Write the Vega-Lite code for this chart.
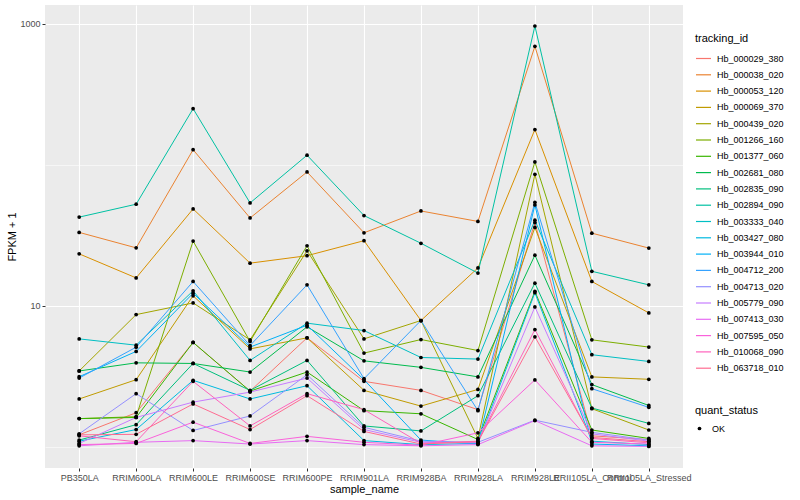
{
  "$schema": "https://vega.github.io/schema/vega-lite/v6.json",
  "width": 638,
  "height": 463,
  "autosize": {"type": "none"},
  "padding": {"left": 45, "top": 5, "right": 117, "bottom": 32},
  "background": "white",
  "config": {"view": {"fill": "#EBEBEB", "stroke": null}, "font": "Liberation Sans"},
  "datasets": {
    "d": [
      {"id":"Hb_000029_380","s":"PB350LA","v":1.22,"q":"OK"},{"id":"Hb_000029_380","s":"RRIM600LA","v":1.75,"q":"OK"},{"id":"Hb_000029_380","s":"RRIM600LE","v":5.51,"q":"OK"},{"id":"Hb_000029_380","s":"RRIM600SE","v":2.49,"q":"OK"},{"id":"Hb_000029_380","s":"RRIM600PE","v":5.94,"q":"OK"},{"id":"Hb_000029_380","s":"RRIM901LA","v":2.92,"q":"OK"},{"id":"Hb_000029_380","s":"RRIM928BA","v":2.52,"q":"OK"},{"id":"Hb_000029_380","s":"RRIM928LA","v":1.84,"q":"OK"},{"id":"Hb_000029_380","s":"RRIM928LE","v":39,"q":"OK"},{"id":"Hb_000029_380","s":"RRII105LA_Control","v":1.2,"q":"OK"},{"id":"Hb_000029_380","s":"RRII105LA_Stressed","v":1.13,"q":"OK"},
      {"id":"Hb_000038_020","s":"PB350LA","v":33.2,"q":"OK"},{"id":"Hb_000038_020","s":"RRIM600LA","v":25.8,"q":"OK"},{"id":"Hb_000038_020","s":"RRIM600LE","v":128,"q":"OK"},{"id":"Hb_000038_020","s":"RRIM600SE","v":42,"q":"OK"},{"id":"Hb_000038_020","s":"RRIM600PE","v":89,"q":"OK"},{"id":"Hb_000038_020","s":"RRIM901LA","v":33,"q":"OK"},{"id":"Hb_000038_020","s":"RRIM928BA","v":47.1,"q":"OK"},{"id":"Hb_000038_020","s":"RRIM928LA","v":39.7,"q":"OK"},{"id":"Hb_000038_020","s":"RRIM928LE","v":692,"q":"OK"},{"id":"Hb_000038_020","s":"RRII105LA_Control","v":32.8,"q":"OK"},{"id":"Hb_000038_020","s":"RRII105LA_Stressed","v":25.7,"q":"OK"},
      {"id":"Hb_000053_120","s":"PB350LA","v":23.4,"q":"OK"},{"id":"Hb_000053_120","s":"RRIM600LA","v":15.8,"q":"OK"},{"id":"Hb_000053_120","s":"RRIM600LE","v":48.7,"q":"OK"},{"id":"Hb_000053_120","s":"RRIM600SE","v":20.1,"q":"OK"},{"id":"Hb_000053_120","s":"RRIM600PE","v":22.7,"q":"OK"},{"id":"Hb_000053_120","s":"RRIM901LA","v":29,"q":"OK"},{"id":"Hb_000053_120","s":"RRIM928BA","v":7.88,"q":"OK"},{"id":"Hb_000053_120","s":"RRIM928LA","v":18.6,"q":"OK"},{"id":"Hb_000053_120","s":"RRIM928LE","v":178,"q":"OK"},{"id":"Hb_000053_120","s":"RRII105LA_Control","v":14.9,"q":"OK"},{"id":"Hb_000053_120","s":"RRII105LA_Stressed","v":8.92,"q":"OK"},
      {"id":"Hb_000069_370","s":"PB350LA","v":2.19,"q":"OK"},{"id":"Hb_000069_370","s":"RRIM600LA","v":3.0,"q":"OK"},{"id":"Hb_000069_370","s":"RRIM600LE","v":11.8,"q":"OK"},{"id":"Hb_000069_370","s":"RRIM600SE","v":4.96,"q":"OK"},{"id":"Hb_000069_370","s":"RRIM600PE","v":5.94,"q":"OK"},{"id":"Hb_000069_370","s":"RRIM901LA","v":2.52,"q":"OK"},{"id":"Hb_000069_370","s":"RRIM928BA","v":1.95,"q":"OK"},{"id":"Hb_000069_370","s":"RRIM928LA","v":2.56,"q":"OK"},{"id":"Hb_000069_370","s":"RRIM928LE","v":36,"q":"OK"},{"id":"Hb_000069_370","s":"RRII105LA_Control","v":3.14,"q":"OK"},{"id":"Hb_000069_370","s":"RRII105LA_Stressed","v":3.02,"q":"OK"},
      {"id":"Hb_000439_020","s":"PB350LA","v":3.46,"q":"OK"},{"id":"Hb_000439_020","s":"RRIM600LA","v":8.68,"q":"OK"},{"id":"Hb_000439_020","s":"RRIM600LE","v":10.5,"q":"OK"},{"id":"Hb_000439_020","s":"RRIM600SE","v":5.75,"q":"OK"},{"id":"Hb_000439_020","s":"RRIM600PE","v":24.6,"q":"OK"},{"id":"Hb_000439_020","s":"RRIM901LA","v":5.84,"q":"OK"},{"id":"Hb_000439_020","s":"RRIM928BA","v":7.88,"q":"OK"},{"id":"Hb_000439_020","s":"RRIM928LA","v":1.15,"q":"OK"},{"id":"Hb_000439_020","s":"RRIM928LE","v":85.7,"q":"OK"},{"id":"Hb_000439_020","s":"RRII105LA_Control","v":1.87,"q":"OK"},{"id":"Hb_000439_020","s":"RRII105LA_Stressed","v":1.32,"q":"OK"},
      {"id":"Hb_001266_160","s":"PB350LA","v":1.59,"q":"OK"},{"id":"Hb_001266_160","s":"RRIM600LA","v":1.64,"q":"OK"},{"id":"Hb_001266_160","s":"RRIM600LE","v":28.8,"q":"OK"},{"id":"Hb_001266_160","s":"RRIM600SE","v":5.6,"q":"OK"},{"id":"Hb_001266_160","s":"RRIM600PE","v":26.7,"q":"OK"},{"id":"Hb_001266_160","s":"RRIM901LA","v":4.63,"q":"OK"},{"id":"Hb_001266_160","s":"RRIM928BA","v":5.78,"q":"OK"},{"id":"Hb_001266_160","s":"RRIM928LA","v":4.83,"q":"OK"},{"id":"Hb_001266_160","s":"RRIM928LE","v":104.8,"q":"OK"},{"id":"Hb_001266_160","s":"RRII105LA_Control","v":5.75,"q":"OK"},{"id":"Hb_001266_160","s":"RRII105LA_Stressed","v":5.11,"q":"OK"},
      {"id":"Hb_001377_060","s":"PB350LA","v":1.59,"q":"OK"},{"id":"Hb_001377_060","s":"RRIM600LA","v":1.62,"q":"OK"},{"id":"Hb_001377_060","s":"RRIM600LE","v":5.51,"q":"OK"},{"id":"Hb_001377_060","s":"RRIM600SE","v":2.49,"q":"OK"},{"id":"Hb_001377_060","s":"RRIM600PE","v":3.4,"q":"OK"},{"id":"Hb_001377_060","s":"RRIM901LA","v":1.81,"q":"OK"},{"id":"Hb_001377_060","s":"RRIM928BA","v":1.72,"q":"OK"},{"id":"Hb_001377_060","s":"RRIM928LA","v":1.13,"q":"OK"},{"id":"Hb_001377_060","s":"RRIM928LE","v":12.7,"q":"OK"},{"id":"Hb_001377_060","s":"RRII105LA_Control","v":1.32,"q":"OK"},{"id":"Hb_001377_060","s":"RRII105LA_Stressed","v":1.15,"q":"OK"},
      {"id":"Hb_002681_080","s":"PB350LA","v":3.46,"q":"OK"},{"id":"Hb_002681_080","s":"RRIM600LA","v":3.95,"q":"OK"},{"id":"Hb_002681_080","s":"RRIM600LE","v":3.91,"q":"OK"},{"id":"Hb_002681_080","s":"RRIM600SE","v":3.4,"q":"OK"},{"id":"Hb_002681_080","s":"RRIM600PE","v":7.11,"q":"OK"},{"id":"Hb_002681_080","s":"RRIM901LA","v":4.08,"q":"OK"},{"id":"Hb_002681_080","s":"RRIM928BA","v":3.67,"q":"OK"},{"id":"Hb_002681_080","s":"RRIM928LA","v":3.14,"q":"OK"},{"id":"Hb_002681_080","s":"RRIM928LE","v":22.9,"q":"OK"},{"id":"Hb_002681_080","s":"RRII105LA_Control","v":2.77,"q":"OK"},{"id":"Hb_002681_080","s":"RRII105LA_Stressed","v":1.97,"q":"OK"},
      {"id":"Hb_002835_090","s":"PB350LA","v":1.12,"q":"OK"},{"id":"Hb_002835_090","s":"RRIM600LA","v":1.44,"q":"OK"},{"id":"Hb_002835_090","s":"RRIM600LE","v":3.91,"q":"OK"},{"id":"Hb_002835_090","s":"RRIM600SE","v":2.52,"q":"OK"},{"id":"Hb_002835_090","s":"RRIM600PE","v":4.11,"q":"OK"},{"id":"Hb_002835_090","s":"RRIM901LA","v":1.41,"q":"OK"},{"id":"Hb_002835_090","s":"RRIM928BA","v":1.3,"q":"OK"},{"id":"Hb_002835_090","s":"RRIM928LA","v":2.31,"q":"OK"},{"id":"Hb_002835_090","s":"RRIM928LE","v":14.5,"q":"OK"},{"id":"Hb_002835_090","s":"RRII105LA_Control","v":1.89,"q":"OK"},{"id":"Hb_002835_090","s":"RRII105LA_Stressed","v":1.47,"q":"OK"},
      {"id":"Hb_002894_090","s":"PB350LA","v":42.6,"q":"OK"},{"id":"Hb_002894_090","s":"RRIM600LA","v":52.6,"q":"OK"},{"id":"Hb_002894_090","s":"RRIM600LE","v":250,"q":"OK"},{"id":"Hb_002894_090","s":"RRIM600SE","v":53.7,"q":"OK"},{"id":"Hb_002894_090","s":"RRIM600PE","v":117,"q":"OK"},{"id":"Hb_002894_090","s":"RRIM901LA","v":43.7,"q":"OK"},{"id":"Hb_002894_090","s":"RRIM928BA","v":27.8,"q":"OK"},{"id":"Hb_002894_090","s":"RRIM928LA","v":17.1,"q":"OK"},{"id":"Hb_002894_090","s":"RRIM928LE","v":964,"q":"OK"},{"id":"Hb_002894_090","s":"RRII105LA_Control","v":17.6,"q":"OK"},{"id":"Hb_002894_090","s":"RRII105LA_Stressed","v":14.1,"q":"OK"},
      {"id":"Hb_003333_040","s":"PB350LA","v":5.84,"q":"OK"},{"id":"Hb_003333_040","s":"RRIM600LA","v":5.27,"q":"OK"},{"id":"Hb_003333_040","s":"RRIM600LE","v":12.8,"q":"OK"},{"id":"Hb_003333_040","s":"RRIM600SE","v":4.11,"q":"OK"},{"id":"Hb_003333_040","s":"RRIM600PE","v":7.55,"q":"OK"},{"id":"Hb_003333_040","s":"RRIM901LA","v":6.69,"q":"OK"},{"id":"Hb_003333_040","s":"RRIM928BA","v":4.31,"q":"OK"},{"id":"Hb_003333_040","s":"RRIM928LA","v":4.2,"q":"OK"},{"id":"Hb_003333_040","s":"RRIM928LE","v":40.5,"q":"OK"},{"id":"Hb_003333_040","s":"RRII105LA_Control","v":4.51,"q":"OK"},{"id":"Hb_003333_040","s":"RRII105LA_Stressed","v":4.04,"q":"OK"},
      {"id":"Hb_003427_080","s":"PB350LA","v":1.1,"q":"OK"},{"id":"Hb_003427_080","s":"RRIM600LA","v":1.33,"q":"OK"},{"id":"Hb_003427_080","s":"RRIM600LE","v":2.97,"q":"OK"},{"id":"Hb_003427_080","s":"RRIM600SE","v":2.19,"q":"OK"},{"id":"Hb_003427_080","s":"RRIM600PE","v":2.72,"q":"OK"},{"id":"Hb_003427_080","s":"RRIM901LA","v":1.11,"q":"OK"},{"id":"Hb_003427_080","s":"RRIM928BA","v":1.04,"q":"OK"},{"id":"Hb_003427_080","s":"RRIM928LA","v":1.06,"q":"OK"},{"id":"Hb_003427_080","s":"RRIM928LE","v":12.4,"q":"OK"},{"id":"Hb_003427_080","s":"RRII105LA_Control","v":1.1,"q":"OK"},{"id":"Hb_003427_080","s":"RRII105LA_Stressed","v":1.04,"q":"OK"},
      {"id":"Hb_003944_010","s":"PB350LA","v":3.15,"q":"OK"},{"id":"Hb_003944_010","s":"RRIM600LA","v":4.76,"q":"OK"},{"id":"Hb_003944_010","s":"RRIM600LE","v":12.3,"q":"OK"},{"id":"Hb_003944_010","s":"RRIM600SE","v":5.11,"q":"OK"},{"id":"Hb_003944_010","s":"RRIM600PE","v":7.3,"q":"OK"},{"id":"Hb_003944_010","s":"RRIM901LA","v":3.0,"q":"OK"},{"id":"Hb_003944_010","s":"RRIM928BA","v":1.12,"q":"OK"},{"id":"Hb_003944_010","s":"RRIM928LA","v":1.05,"q":"OK"},{"id":"Hb_003944_010","s":"RRIM928LE","v":52,"q":"OK"},{"id":"Hb_003944_010","s":"RRII105LA_Control","v":1.05,"q":"OK"},{"id":"Hb_003944_010","s":"RRII105LA_Stressed","v":1.02,"q":"OK"},
      {"id":"Hb_004712_200","s":"PB350LA","v":3.08,"q":"OK"},{"id":"Hb_004712_200","s":"RRIM600LA","v":5.1,"q":"OK"},{"id":"Hb_004712_200","s":"RRIM600LE","v":14.9,"q":"OK"},{"id":"Hb_004712_200","s":"RRIM600SE","v":5.24,"q":"OK"},{"id":"Hb_004712_200","s":"RRIM600PE","v":14.1,"q":"OK"},{"id":"Hb_004712_200","s":"RRIM901LA","v":3.05,"q":"OK"},{"id":"Hb_004712_200","s":"RRIM928BA","v":7.88,"q":"OK"},{"id":"Hb_004712_200","s":"RRIM928LA","v":1.81,"q":"OK"},{"id":"Hb_004712_200","s":"RRIM928LE","v":54.3,"q":"OK"},{"id":"Hb_004712_200","s":"RRII105LA_Control","v":2.59,"q":"OK"},{"id":"Hb_004712_200","s":"RRII105LA_Stressed","v":1.91,"q":"OK"},
      {"id":"Hb_004713_020","s":"PB350LA","v":1.24,"q":"OK"},{"id":"Hb_004713_020","s":"RRIM600LA","v":2.39,"q":"OK"},{"id":"Hb_004713_020","s":"RRIM600LE","v":1.31,"q":"OK"},{"id":"Hb_004713_020","s":"RRIM600SE","v":1.66,"q":"OK"},{"id":"Hb_004713_020","s":"RRIM600PE","v":3.25,"q":"OK"},{"id":"Hb_004713_020","s":"RRIM901LA","v":1.38,"q":"OK"},{"id":"Hb_004713_020","s":"RRIM928BA","v":1.1,"q":"OK"},{"id":"Hb_004713_020","s":"RRIM928LA","v":1.08,"q":"OK"},{"id":"Hb_004713_020","s":"RRIM928LE","v":1.55,"q":"OK"},{"id":"Hb_004713_020","s":"RRII105LA_Control","v":1.27,"q":"OK"},{"id":"Hb_004713_020","s":"RRII105LA_Stressed","v":1.12,"q":"OK"},
      {"id":"Hb_005779_090","s":"PB350LA","v":1.06,"q":"OK"},{"id":"Hb_005779_090","s":"RRIM600LA","v":1.62,"q":"OK"},{"id":"Hb_005779_090","s":"RRIM600LE","v":2.08,"q":"OK"},{"id":"Hb_005779_090","s":"RRIM600SE","v":2.45,"q":"OK"},{"id":"Hb_005779_090","s":"RRIM600PE","v":3.08,"q":"OK"},{"id":"Hb_005779_090","s":"RRIM901LA","v":1.33,"q":"OK"},{"id":"Hb_005779_090","s":"RRIM928BA","v":1.08,"q":"OK"},{"id":"Hb_005779_090","s":"RRIM928LA","v":1.07,"q":"OK"},{"id":"Hb_005779_090","s":"RRIM928LE","v":9.84,"q":"OK"},{"id":"Hb_005779_090","s":"RRII105LA_Control","v":1.24,"q":"OK"},{"id":"Hb_005779_090","s":"RRII105LA_Stressed","v":1.1,"q":"OK"},
      {"id":"Hb_007413_030","s":"PB350LA","v":1.02,"q":"OK"},{"id":"Hb_007413_030","s":"RRIM600LA","v":1.08,"q":"OK"},{"id":"Hb_007413_030","s":"RRIM600LE","v":1.11,"q":"OK"},{"id":"Hb_007413_030","s":"RRIM600SE","v":1.05,"q":"OK"},{"id":"Hb_007413_030","s":"RRIM600PE","v":1.11,"q":"OK"},{"id":"Hb_007413_030","s":"RRIM901LA","v":1.04,"q":"OK"},{"id":"Hb_007413_030","s":"RRIM928BA","v":1.02,"q":"OK"},{"id":"Hb_007413_030","s":"RRIM928LA","v":1.04,"q":"OK"},{"id":"Hb_007413_030","s":"RRIM928LE","v":1.54,"q":"OK"},{"id":"Hb_007413_030","s":"RRII105LA_Control","v":1.02,"q":"OK"},{"id":"Hb_007413_030","s":"RRII105LA_Stressed","v":1.01,"q":"OK"},
      {"id":"Hb_007595_050","s":"PB350LA","v":1.04,"q":"OK"},{"id":"Hb_007595_050","s":"RRIM600LA","v":1.06,"q":"OK"},{"id":"Hb_007595_050","s":"RRIM600LE","v":1.5,"q":"OK"},{"id":"Hb_007595_050","s":"RRIM600SE","v":1.06,"q":"OK"},{"id":"Hb_007595_050","s":"RRIM600PE","v":1.19,"q":"OK"},{"id":"Hb_007595_050","s":"RRIM901LA","v":1.08,"q":"OK"},{"id":"Hb_007595_050","s":"RRIM928BA","v":1.03,"q":"OK"},{"id":"Hb_007595_050","s":"RRIM928LA","v":1.26,"q":"OK"},{"id":"Hb_007595_050","s":"RRIM928LE","v":2.99,"q":"OK"},{"id":"Hb_007595_050","s":"RRII105LA_Control","v":1.08,"q":"OK"},{"id":"Hb_007595_050","s":"RRII105LA_Stressed","v":1.05,"q":"OK"},
      {"id":"Hb_010068_090","s":"PB350LA","v":1.2,"q":"OK"},{"id":"Hb_010068_090","s":"RRIM600LA","v":1.09,"q":"OK"},{"id":"Hb_010068_090","s":"RRIM600LE","v":2.92,"q":"OK"},{"id":"Hb_010068_090","s":"RRIM600SE","v":1.41,"q":"OK"},{"id":"Hb_010068_090","s":"RRIM600PE","v":2.39,"q":"OK"},{"id":"Hb_010068_090","s":"RRIM901LA","v":1.84,"q":"OK"},{"id":"Hb_010068_090","s":"RRIM928BA","v":1.06,"q":"OK"},{"id":"Hb_010068_090","s":"RRIM928LA","v":1.1,"q":"OK"},{"id":"Hb_010068_090","s":"RRIM928LE","v":6.8,"q":"OK"},{"id":"Hb_010068_090","s":"RRII105LA_Control","v":1.15,"q":"OK"},{"id":"Hb_010068_090","s":"RRII105LA_Stressed","v":1.07,"q":"OK"},
      {"id":"Hb_063718_010","s":"PB350LA","v":1.22,"q":"OK"},{"id":"Hb_063718_010","s":"RRIM600LA","v":1.23,"q":"OK"},{"id":"Hb_063718_010","s":"RRIM600LE","v":2.02,"q":"OK"},{"id":"Hb_063718_010","s":"RRIM600SE","v":1.33,"q":"OK"},{"id":"Hb_063718_010","s":"RRIM600PE","v":2.31,"q":"OK"},{"id":"Hb_063718_010","s":"RRIM901LA","v":1.29,"q":"OK"},{"id":"Hb_063718_010","s":"RRIM928BA","v":1.05,"q":"OK"},{"id":"Hb_063718_010","s":"RRIM928LA","v":1.09,"q":"OK"},{"id":"Hb_063718_010","s":"RRIM928LE","v":6.04,"q":"OK"},{"id":"Hb_063718_010","s":"RRII105LA_Control","v":1.17,"q":"OK"},{"id":"Hb_063718_010","s":"RRII105LA_Stressed","v":1.09,"q":"OK"}
    ]
  },
  "data": {"name": "d"},
  "encoding": {
    "x": {
      "field": "s", "type": "nominal", "title": "sample_name",
      "sort": ["PB350LA","RRIM600LA","RRIM600LE","RRIM600SE","RRIM600PE","RRIM901LA","RRIM928BA","RRIM928LA","RRIM928LE","RRII105LA_Control","RRII105LA_Stressed"],
      "scale": {"type": "point", "padding": 0.6},
      "axis": {
        "domain": false, "grid": true, "gridColor": "white", "gridWidth": 1.1,
        "ticks": true, "tickColor": "#333333", "tickSize": 3, "tickWidth": 1,
        "labelColor": "#4D4D4D", "labelFontSize": 9, "labelAngle": 0, "labelOverlap": false, "labelBound": false, "labelPadding": 2,
        "titleFontSize": 11, "titleColor": "black", "titleFontWeight": "normal", "titlePadding": 1
      }
    },
    "y": {
      "field": "v", "type": "quantitative", "title": "FPKM + 1",
      "scale": {"type": "log", "domain": [0.71, 1358], "nice": false, "zero": false},
      "axis": {
        "values": [1, 10, 100, 1000],
        "labelExpr": "datum.value == 10 ? '10' : (datum.value == 1000 ? '1000' : '')",
        "domain": false, "grid": true, "gridColor": "white",
        "gridWidth": {"condition": {"test": "datum.value == 10 || datum.value == 1000", "value": 1.1}, "value": 0.55},
        "ticks": true, "tickColor": "#333333", "tickSize": 3, "tickWidth": 1,
        "tickOpacity": {"condition": {"test": "datum.value == 10 || datum.value == 1000", "value": 1}, "value": 0},
        "labelColor": "#4D4D4D", "labelFontSize": 9, "labelPadding": 2,
        "titleFontSize": 11, "titleColor": "black", "titleFontWeight": "normal", "titlePadding": 2
      }
    }
  },
  "layer": [
    {
      "mark": {"type": "line", "strokeWidth": 1},
      "encoding": {
        "color": {
          "field": "id", "type": "nominal", "title": "tracking_id",
          "scale": {
            "domain": ["Hb_000029_380","Hb_000038_020","Hb_000053_120","Hb_000069_370","Hb_000439_020","Hb_001266_160","Hb_001377_060","Hb_002681_080","Hb_002835_090","Hb_002894_090","Hb_003333_040","Hb_003427_080","Hb_003944_010","Hb_004712_200","Hb_004713_020","Hb_005779_090","Hb_007413_030","Hb_007595_050","Hb_010068_090","Hb_063718_010"],
            "range": ["#F8766D","#EA8331","#D89000","#C09B00","#A3A500","#7CAE00","#39B600","#00BB4E","#00BF7D","#00C1A3","#00BFC4","#00BAE0","#00B0F6","#35A2FF","#9590FF","#C77CFF","#E76BF3","#FA62DB","#FF62BC","#FF6C91"]
          },
          "legend": {
            "orient": "none", "legendX": 650, "legendY": 28,
            "symbolType": "stroke", "symbolSize": 225, "symbolStrokeWidth": 1.2,
            "labelFontSize": 9, "labelColor": "black", "labelOffset": 5,
            "titleFontSize": 11, "titleFontWeight": "normal", "titleColor": "black", "titlePadding": 6,
            "rowPadding": 2.3
          }
        }
      }
    },
    {
      "mark": {"type": "point", "filled": true, "size": 14, "opacity": 1, "color": "black"},
      "encoding": {
        "shape": {
          "field": "q", "type": "nominal", "title": "quant_status",
          "scale": {"range": ["circle"]},
          "legend": {
            "orient": "none", "legendX": 650, "legendY": 400,
            "symbolSize": 14, "symbolFillColor": "black", "symbolStrokeColor": "black",
            "labelFontSize": 9, "labelColor": "black", "labelOffset": 8,
            "titleFontSize": 11, "titleFontWeight": "normal", "titleColor": "black", "titlePadding": 8
          }
        }
      }
    }
  ]
}
